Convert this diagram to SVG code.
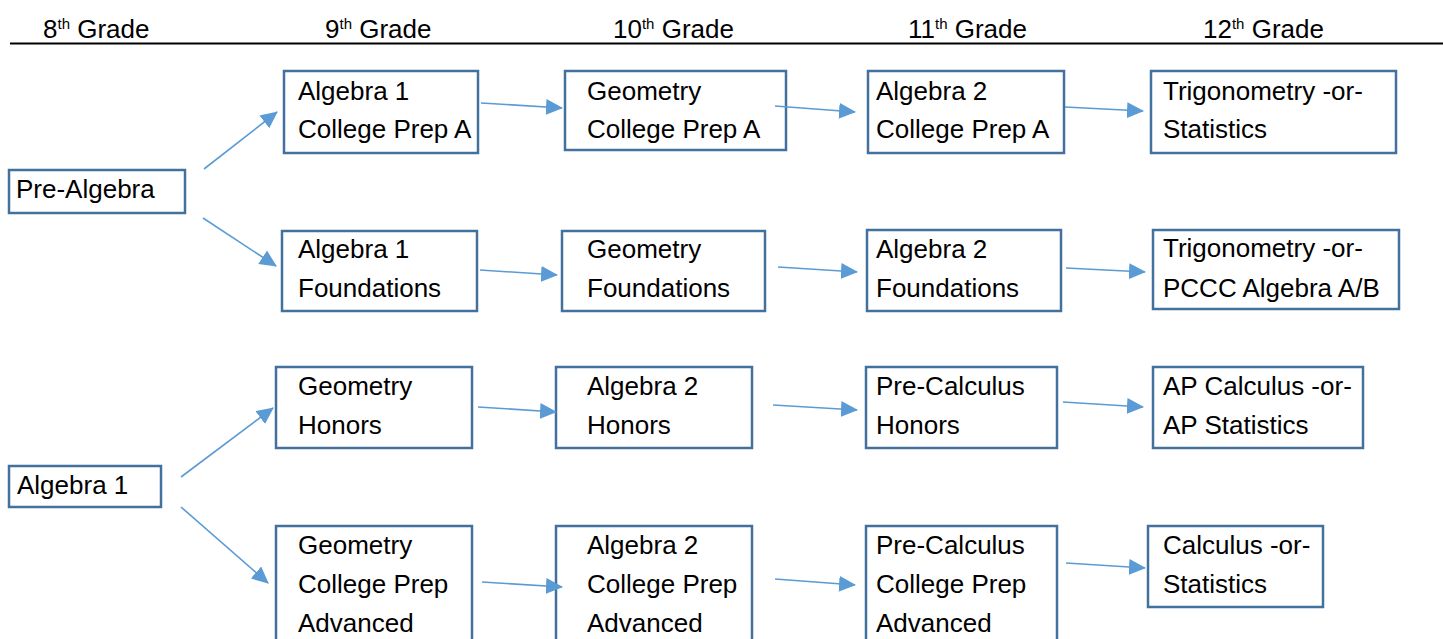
<svg xmlns="http://www.w3.org/2000/svg" width="1443" height="639" viewBox="0 0 1443 639">
<style>
text{font-family:"Liberation Sans",Arial,sans-serif;font-size:26px;fill:#000}
.box{fill:#fff;stroke:#41719C;stroke-width:2.5}
.sup{font-size:15px}
.conn line{stroke:#5B9BD5;stroke-width:1.6;marker-end:url(#ah)}
</style>
<defs>
<marker id="ah" markerUnits="userSpaceOnUse" markerWidth="17" markerHeight="16" refX="16" refY="8" orient="auto">
<path d="M0,0 L17,8 L0,16 Z" fill="#5B9BD5"/>
</marker>
</defs>
<rect width="1443" height="639" fill="#fff"/>
<g id="header">
<line x1="10" y1="43.5" x2="1443" y2="43.5" stroke="#000" stroke-width="2"/>
<text x="43" y="38">8<tspan class="sup" dy="-9">th</tspan><tspan dy="9"> Grade</tspan></text>
<text x="325" y="38">9<tspan class="sup" dy="-9">th</tspan><tspan dy="9"> Grade</tspan></text>
<text x="613" y="38">10<tspan class="sup" dy="-9">th</tspan><tspan dy="9"> Grade</tspan></text>
<text x="908" y="38">11<tspan class="sup" dy="-9">th</tspan><tspan dy="9"> Grade</tspan></text>
<text x="1203" y="38">12<tspan class="sup" dy="-9">th</tspan><tspan dy="9"> Grade</tspan></text>
</g>
<g id="pre-algebra"><rect class="box" x="9" y="170" width="176" height="43"/><text x="16" y="198">Pre-Algebra</text></g>
<g id="algebra1-8"><rect class="box" x="9" y="466" width="152" height="41"/><text x="17" y="494">Algebra 1</text></g>
<g id="alg1-cpa"><rect class="box" x="284" y="71" width="194" height="82"/><text x="298" y="100">Algebra 1</text><text x="298" y="138">College Prep A</text></g>
<g id="geo-cpa"><rect class="box" x="565" y="71" width="221" height="79"/><text x="587" y="100">Geometry</text><text x="587" y="138">College Prep A</text></g>
<g id="alg2-cpa"><rect class="box" x="868" y="71" width="196" height="82"/><text x="876" y="100">Algebra 2</text><text x="876" y="138">College Prep A</text></g>
<g id="trig-stats"><rect class="box" x="1151" y="71" width="245" height="82"/><text x="1163" y="100">Trigonometry -or-</text><text x="1163" y="138">Statistics</text></g>
<g id="alg1-found"><rect class="box" x="282" y="231" width="195" height="80"/><text x="298" y="258">Algebra 1</text><text x="298" y="297">Foundations</text></g>
<g id="geo-found"><rect class="box" x="562" y="231" width="203" height="80"/><text x="587" y="258">Geometry</text><text x="587" y="297">Foundations</text></g>
<g id="alg2-found"><rect class="box" x="867" y="230" width="194" height="81"/><text x="876" y="258">Algebra 2</text><text x="876" y="297">Foundations</text></g>
<g id="trig-pccc"><rect class="box" x="1153" y="230" width="246" height="79"/><text x="1163" y="257">Trigonometry -or-</text><text x="1163" y="297">PCCC Algebra A/B</text></g>
<g id="geo-hon"><rect class="box" x="276" y="367" width="196" height="81"/><text x="298" y="395">Geometry</text><text x="298" y="434">Honors</text></g>
<g id="alg2-hon"><rect class="box" x="556" y="367" width="196" height="81"/><text x="587" y="395">Algebra 2</text><text x="587" y="434">Honors</text></g>
<g id="precalc-hon"><rect class="box" x="866" y="367" width="191" height="81"/><text x="876" y="395">Pre-Calculus</text><text x="876" y="434">Honors</text></g>
<g id="ap-calc"><rect class="box" x="1153" y="367" width="210" height="81"/><text x="1163" y="395">AP Calculus -or-</text><text x="1163" y="434">AP Statistics</text></g>
<g id="geo-cpadv"><rect class="box" x="276" y="526" width="196" height="120"/><text x="298" y="554">Geometry</text><text x="298" y="593">College Prep</text><text x="298" y="632">Advanced</text></g>
<g id="alg2-cpadv"><rect class="box" x="556" y="526" width="196" height="120"/><text x="587" y="554">Algebra 2</text><text x="587" y="593">College Prep</text><text x="587" y="632">Advanced</text></g>
<g id="precalc-cpadv"><rect class="box" x="866" y="526" width="191" height="120"/><text x="876" y="554">Pre-Calculus</text><text x="876" y="593">College Prep</text><text x="876" y="632">Advanced</text></g>
<g id="calc-stats"><rect class="box" x="1148" y="526" width="175" height="81"/><text x="1163" y="554">Calculus -or-</text><text x="1163" y="593">Statistics</text></g>
<g id="connectors" class="conn">
<line x1="204" y1="169" x2="277" y2="112"/>
<line x1="203" y1="218" x2="276" y2="266"/>
<line x1="481" y1="103" x2="562" y2="108"/>
<line x1="775" y1="106" x2="855" y2="112"/>
<line x1="1065" y1="107" x2="1143" y2="111"/>
<line x1="480" y1="270" x2="557" y2="275"/>
<line x1="778" y1="267" x2="857" y2="272"/>
<line x1="1066" y1="268" x2="1145" y2="272"/>
<line x1="181" y1="477" x2="273" y2="408"/>
<line x1="181" y1="507" x2="268" y2="583"/>
<line x1="478" y1="407" x2="556" y2="412"/>
<line x1="773" y1="405" x2="857" y2="410"/>
<line x1="1063" y1="402" x2="1143" y2="407"/>
<line x1="482" y1="582" x2="562" y2="587"/>
<line x1="775" y1="579" x2="855" y2="585"/>
<line x1="1066" y1="563" x2="1145" y2="568"/>
</g>
</svg>
